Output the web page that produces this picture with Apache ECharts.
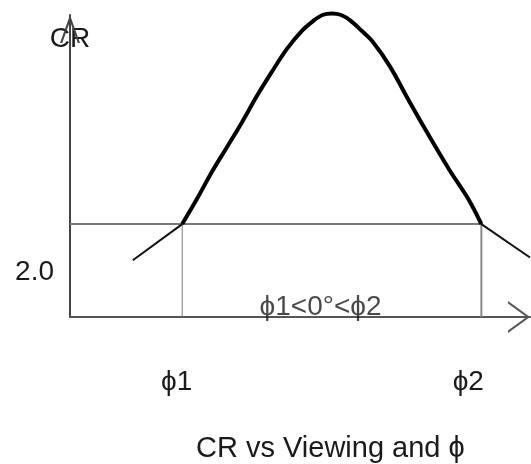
<!DOCTYPE html>
<html>
<head>
<meta charset="utf-8">
<script src="https://cdn.jsdelivr.net/npm/echarts@6/dist/echarts.min.js"></script>
<style>html,body{margin:0;padding:0;background:#fff}#c{width:531px;height:464px}</style>
</head>
<body>
<div id="c"></div>
<script>
// Viewing angle (deg) and CR values
const curveX = [-40, -36, -32, -28, -24, -20, -16, -12, -8, -5, -2.5, 0, 2.5, 5, 8, 11, 15.5, 21, 26, 31.5, 36.5, 40];
const curveY = [10, 12.75, 15.66, 18.3, 20.97, 23.8, 26.4, 28.85, 30.8, 31.85, 32.5, 32.67, 32.5, 31.9, 30.8, 29.6, 27.0, 23.0, 19.5, 15.8, 12.7, 10];
const leftTailX = [-53.2, -40];
const leftTailY = [6.1, 10];
const rightTailX = [40, 53];
const rightTailY = [10, 6.4];
const thresholdCR = 10;
const phiX = [-40, 40];
const tickLabels = ['\u03D51', '\u03D52'];
const tickLabelAt = [-41.5, 36.5];
const yLabel = '2.0';
const yLabelAt = [4.8];
const centerNote = '\u03D51<0\u00B0<\u03D52';
const centerNoteAt = [-3, 0];
const titleText = 'CR vs Viewing and \u03D5';

const zip = (xs, ys) => xs.map((x, i) => [x, ys[i]]);
const FONT = '"Liberation Sans", Arial, sans-serif';
const TXT = '#1a1a1a';

const chart = echarts.init(document.getElementById('c'));
chart.setOption({
  backgroundColor: '#fff',
  animation: false,
  title: {
    text: titleText, left: 191, top: 429,
    textStyle: { fontFamily: FONT, fontSize: 29, fontWeight: 'normal', color: TXT }
  },
  grid: { left: 70, right: 1, top: 15, bottom: 147, containLabel: false },
  xAxis: {
    type: 'value', min: -70, max: 53,
    splitLine: { show: false }, axisTick: { show: false },
    axisLine: {
      onZero: false,
      lineStyle: { color: '#555', width: 2 },
      symbol: ['none', 'path://M16,0 L32,22 L29.5,22 L16,3.4 L2.5,22 L0,22 Z'],
      symbolSize: [32, 22], symbolOffset: [0, -11]
    },
    axisLabel: {
      customValues: tickLabelAt,
      formatter: (v) => { const i = tickLabelAt.indexOf(v); return i >= 0 ? tickLabels[i] : ''; },
      margin: 51, fontFamily: FONT, fontSize: 28, color: TXT
    }
  },
  yAxis: {
    type: 'value', min: 0, max: 32.5,
    name: 'CR', nameLocation: 'end', nameGap: -24,
    nameTextStyle: { fontFamily: FONT, fontSize: 28, color: TXT, verticalAlign: 'middle', align: 'center' },
    splitLine: { show: false }, axisTick: { show: false },
    axisLine: {
      onZero: false,
      lineStyle: { color: '#444', width: 2 },
      symbol: ['none', 'path://M10,0 L20,28 L17.8,28 L10,6.2 L2.2,28 L0,28 Z'],
      symbolSize: [20, 28], symbolOffset: [0, -14]
    },
    axisLabel: {
      customValues: yLabelAt,
      formatter: () => yLabel,
      margin: 16, fontFamily: FONT, fontSize: 28, color: TXT
    }
  },
  series: [
    { type: 'line', data: [[-70, thresholdCR], [phiX[1], thresholdCR]], symbol: 'none', clip: false,
      lineStyle: { color: '#7a7a7a', width: 2 }, z: 1 },
    { type: 'line', data: [[phiX[0], 0], [phiX[0], thresholdCR]], symbol: 'none', clip: false,
      lineStyle: { color: '#777', width: 1 }, z: 1 },
    { type: 'line', data: [[phiX[1], 0], [phiX[1], thresholdCR]], symbol: 'none', clip: false,
      lineStyle: { color: '#888', width: 2 }, z: 1 },
    { type: 'line', data: zip(leftTailX, leftTailY), symbol: 'none', clip: false,
      lineStyle: { color: '#111', width: 2 }, z: 3 },
    { type: 'line', data: zip(rightTailX, rightTailY), symbol: 'none', clip: false,
      lineStyle: { color: '#111', width: 2 }, z: 3 },
    { type: 'line', data: zip(curveX, curveY), symbol: 'none', clip: false, smooth: 0.35,
      lineStyle: { color: '#000', width: 4 }, z: 4 },
    { type: 'scatter', data: [centerNoteAt], symbolSize: 0, silent: true, z: 5,
      label: { show: true, formatter: centerNote, position: 'top', distance: -4,
        fontFamily: FONT, fontSize: 28, color: TXT } }
  ]
});
</script>
</body>
</html>
